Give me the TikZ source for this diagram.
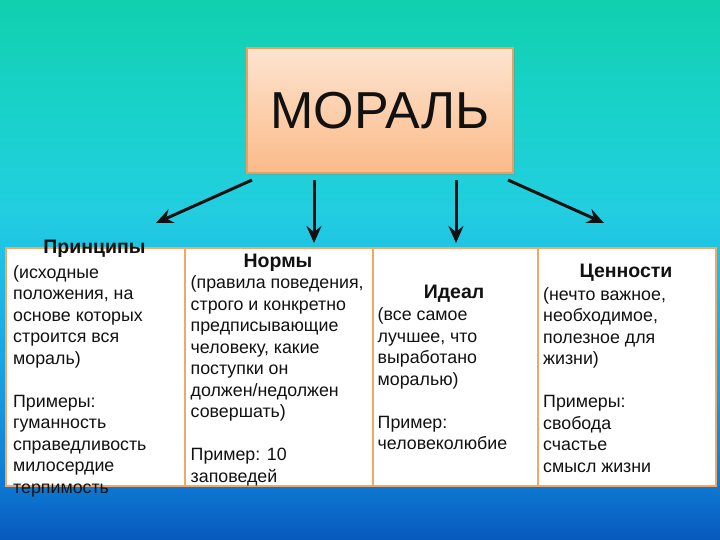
\documentclass[tikz,border=0pt]{standalone}
\usepackage{fontspec}
\setmainfont{Liberation Sans}
\usetikzlibrary{arrows.meta,shadows}
\definecolor{bg0}{HTML}{10D0AE}
\definecolor{bg1}{HTML}{18D2C8}
\definecolor{bg2}{HTML}{22CEE0}
\definecolor{bg3}{HTML}{1AB6E8}
\definecolor{bg4}{HTML}{1898E0}
\definecolor{bg5}{HTML}{0E78D2}
\definecolor{bg6}{HTML}{0858BE}
\definecolor{peachtop}{HTML}{FDE4D0}
\definecolor{peachbot}{HTML}{FBBA88}
\definecolor{boxedge}{HTML}{E9A05E}
\definecolor{celledge}{HTML}{F0A868}
\definecolor{ink}{HTML}{111111}
\pgfdeclareverticalshading{bgshade}{100bp}{%
  color(0bp)=(bg6); color(25bp)=(bg6); color(30bp)=(bg5); color(37.96bp)=(bg4);
  color(47.2bp)=(bg3); color(55.5bp)=(bg2); color(65.7bp)=(bg1);
  color(75bp)=(bg0); color(100bp)=(bg0)}
\newcommand\bodyfs{\fontsize{17.8}{21.5}\selectfont}
\newcommand\headfs{\fontsize{19.5}{21.5}\selectfont}
\tikzset{
  cell/.style={draw=celledge, line width=2.2pt, fill=white, anchor=north west,
    minimum height=238pt, inner sep=0pt},
  head/.style={font=\headfs\bfseries, text=ink, anchor=base, inner sep=0pt},
  body/.style={font=\bodyfs, text=ink, anchor=north west, align=left, inner sep=0pt},
  arr/.style={line width=3pt, -{Stealth[length=17pt,width=15pt,inset=6pt]}, ink}
}
\begin{document}
\begin{tikzpicture}[x=1pt,y=-1pt]
\useasboundingbox (0,0) rectangle (720,540);
\shade[shading=bgshade] (0,0) rectangle (720,540);
% main box
\node[draw=boxedge, line width=2pt, top color=peachtop, bottom color=peachbot,
  minimum width=266pt, minimum height=125pt, inner sep=0pt,
  font=\fontsize{52}{60}\selectfont, text=ink,
  drop shadow={shadow xshift=1.5pt, shadow yshift=-1.5pt, opacity=0.25}]
  (mor) at (380,111) {МОРАЛЬ};
% arrows
\coordinate (s1) at (252,180); \coordinate (e1) at (156,223);
\coordinate (s2) at (314,180); \coordinate (e2) at (314,243);
\coordinate (s3) at (456,180); \coordinate (e3) at (456,243);
\coordinate (s4) at (508,180); \coordinate (e4) at (604,223);
\draw[arr] (s1) -- (e1);
\draw[arr] (s2) -- (e2);
\draw[arr] (s3) -- (e3);
\draw[arr] (s4) -- (e4);
% cells
\node[cell, minimum width=179pt] (c1) at (5,247) {};
\node[cell, minimum width=188pt] (c2) at (184,247) {};
\node[cell, minimum width=165pt] (c3) at (372,247) {};
\node[cell, minimum width=178pt] (c4) at (537,247) {};
% texts
\node[head] (h1) at (94.5,254) {Принципы};
\node[body] (t1) at (13,263) {\strut(исходные\\положения, на\\основе которых\\строится вся\\мораль)\\[21.5pt]Примеры:\\гуманность\\справедливость\\милосердие\\терпимость};
\node[head] (h2) at (278,267) {Нормы};
\node[body] (t2) at (190.5,273.5) {\strut(правила поведения,\\строго и конкретно\\предписывающие\\человеку, какие\\поступки он\\должен/недолжен\\совершать)\\[21.5pt]Пример: 10\\заповедей};
\node[head] (h3) at (454,298) {Идеал};
\node[body] (t3) at (377.5,305.5) {\strut(все самое\\лучшее, что\\выработано\\моралью)\\[21.5pt]Пример:\\человеколюбие};
\node[head] (h4) at (626,277) {Ценности};
\node[body] (t4) at (543,285) {\strut(нечто важное,\\необходимое,\\полезное для\\жизни)\\[21.5pt]Примеры:\\свобода\\счастье\\смысл жизни};
\end{tikzpicture}
\end{document}
